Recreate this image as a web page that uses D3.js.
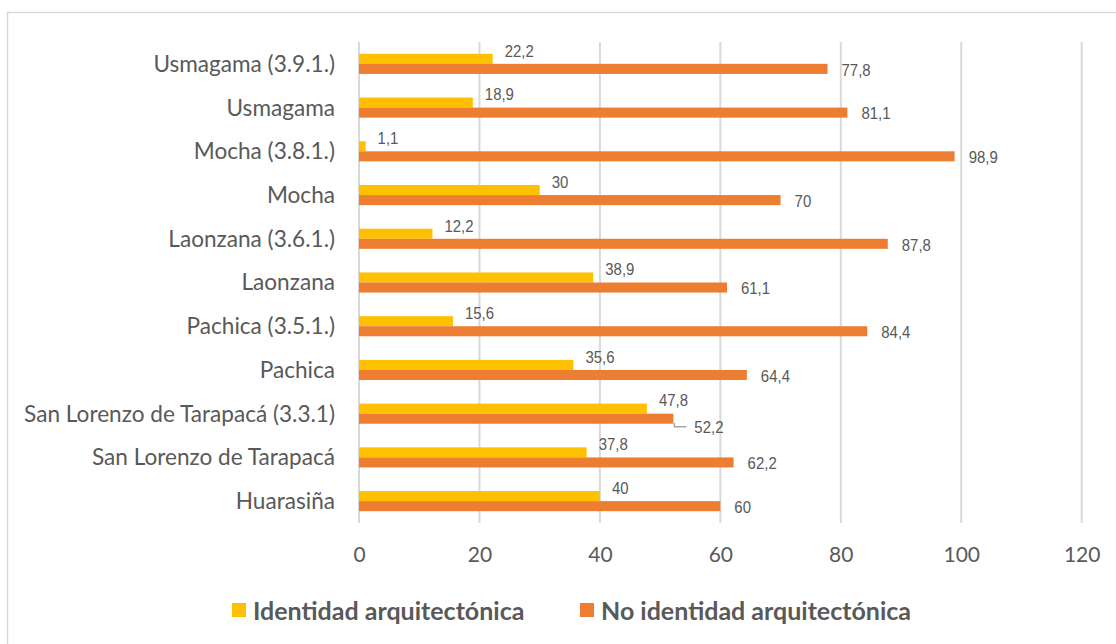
<!DOCTYPE html>
<html>
<head>
<meta charset="utf-8">
<script src="https://cdn.jsdelivr.net/npm/d3@7/dist/d3.min.js"></script>
<style>
  html, body { margin: 0; padding: 0; background: #fff; }
  svg { display: block; }
</style>
</head>
<body>
<svg id="chart" width="1116" height="644"></svg>
<script>
// Localities, listed top to bottom
const categories = [
  "Usmagama (3.9.1.)",
  "Usmagama",
  "Mocha (3.8.1.)",
  "Mocha",
  "Laonzana (3.6.1.)",
  "Laonzana",
  "Pachica (3.5.1.)",
  "Pachica",
  "San Lorenzo de Tarapacá (3.3.1)",
  "San Lorenzo de Tarapacá",
  "Huarasiña"
];
// Percentages per locality
const identidad   = [22.2, 18.9, 1.1, 30, 12.2, 38.9, 15.6, 35.6, 47.8, 37.8, 40];
const noIdentidad = [77.8, 81.1, 98.9, 70, 87.8, 61.1, 84.4, 64.4, 52.2, 62.2, 60];
const seriesNames = ["Identidad arquitectónica", "No identidad arquitectónica"];
const xTicks = [0, 20, 40, 60, 80, 100, 120];
// Labels of the second series drawn with a leader line
const calloutCategories = ["San Lorenzo de Tarapacá (3.3.1)"];

const colors = ["#FFC000", "#ED7D31"];
const textColor = "#595959";
const gridColor = "#D9D9D9";

const svg = d3.select("#chart");

// Outer chart frame
svg.append("rect")
  .attr("x", 7.5).attr("y", 12.5)
  .attr("width", 1120).attr("height", 640)
  .attr("fill", "#fff")
  .attr("stroke", "#D9D9D9")
  .attr("stroke-width", 1.5);

const plot = { left: 359, right: 1081.7, top: 42, bottom: 523 };

const x = d3.scaleLinear().domain([0, 120]).range([plot.left, plot.right]);
const y = d3.scaleBand().domain(categories)
  .range([plot.top, plot.bottom])
  .paddingInner(0.54).paddingOuter(0.27);
const ySub = d3.scaleBand().domain(seriesNames).range([0, y.bandwidth()]);

// Value axis labels
const xAxis = d3.axisBottom(x).tickValues(xTicks).tickSize(0).tickPadding(0)
  .tickFormat(d3.format("d"));
const gx = svg.append("g").attr("transform", `translate(0,${plot.bottom})`).call(xAxis);
gx.select(".domain").remove();
gx.selectAll("text")
  .attr("y", 32)
  .attr("dy", "0.35em")
  .attr("fill", textColor)
  .style("font-family", "Lato, 'Open Sans', sans-serif")
  .style("font-size", "21px");

// Vertical gridlines (0 doubles as the category axis line)
svg.append("g").selectAll("line")
  .data(xTicks)
  .join("line")
  .attr("x1", d => x(d)).attr("x2", d => x(d))
  .attr("y1", plot.top).attr("y2", plot.bottom)
  .attr("stroke", gridColor)
  .attr("stroke-width", 2);

// Category labels
const gy = svg.append("g").attr("transform", `translate(${plot.left},0)`)
  .call(d3.axisLeft(y).tickSize(0).tickPadding(24));
gy.select(".domain").remove();
gy.selectAll("text")
  .attr("fill", textColor)
  .attr("dy", "0.35em")
  .style("font-family", "Lato, 'Open Sans', sans-serif")
  .style("font-size", "22.6px");

// Bars
const rows = categories.map((c, i) => ({ cat: c, values: [identidad[i], noIdentidad[i]] }));
const bars = svg.append("g");
rows.forEach(r => {
  r.values.forEach((v, s) => {
    bars.append("rect")
      .attr("x", x(0))
      .attr("y", y(r.cat) + ySub(seriesNames[s]))
      .attr("width", x(v) - x(0))
      .attr("height", ySub.bandwidth())
      .attr("fill", colors[s]);
  });
});

// Value labels (narrow face: regular sans squeezed horizontally)
const fmt = v => String(v).replace(".", ",");
const labels = svg.append("g")
  .style("font-family", "'Liberation Sans', Arial, sans-serif")
  .style("font-size", "17px")
  .attr("fill", textColor);
const addLabel = (lx, ly, str) =>
  labels.append("text")
    .attr("transform", `translate(${lx},${ly}) scale(0.88,1)`)
    .attr("dominant-baseline", "central")
    .text(str);

rows.forEach(r => {
  const yTop = y(r.cat) + ySub(seriesNames[0]);
  const v0 = r.values[0];
  addLabel(x(v0) + 12, yTop - 3, fmt(v0));

  const v1 = r.values[1];
  const oMid = y(r.cat) + ySub(seriesNames[1]) + ySub.bandwidth() / 2;
  if (calloutCategories.includes(r.cat)) {
    const lx = x(v1) + 1, ly = oMid + 8;
    svg.append("path")
      .attr("d", `M${lx},${oMid + 4}L${lx},${ly}L${lx + 12},${ly}`)
      .attr("fill", "none")
      .attr("stroke", "#A6A6A6")
      .attr("stroke-width", 1.5);
    addLabel(lx + 20, ly, fmt(v1));
  } else {
    addLabel(x(v1) + 14, oMid + 1, fmt(v1));
  }
});

// Legend
const legend = svg.append("g")
  .style("font-family", "Lato, 'Open Sans', sans-serif")
  .style("font-size", "25px")
  .style("font-weight", "bold")
  .attr("fill", textColor);
const legendX = [232, 580];
seriesNames.forEach((name, i) => {
  legend.append("rect")
    .attr("x", legendX[i]).attr("y", 603)
    .attr("width", 14).attr("height", 14)
    .attr("fill", colors[i]);
  legend.append("text")
    .attr("x", legendX[i] + 21)
    .attr("y", 610)
    .attr("dominant-baseline", "central")
    .text(name);
});
</script>
</body>
</html>
